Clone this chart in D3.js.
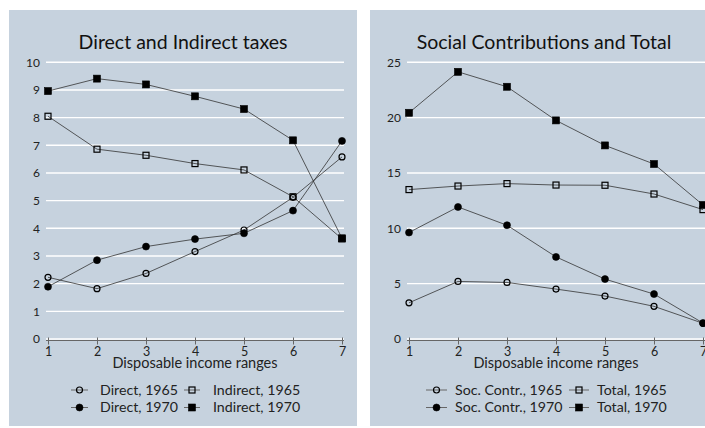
<!DOCTYPE html>
<html><head><meta charset="utf-8">
<script src="https://cdn.jsdelivr.net/npm/d3@7"></script>
<style>
html,body{margin:0;padding:0;background:#fff;overflow:hidden;}
svg{display:block;font-family:Lato,"Open Sans",sans-serif;}
</style></head>
<body>
<svg id="chart" width="705" height="428"></svg>
<script>
// ---- data ----
const categories = [1, 2, 3, 4, 5, 6, 7];
const leftTicks = [0, 1, 2, 3, 4, 5, 6, 7, 8, 9, 10];
const rightTicks = [0, 5, 10, 15, 20, 25];

const direct1965   = [2.23, 1.82, 2.37, 3.16, 3.94, 5.12, 6.58];
const direct1970   = [1.89, 2.85, 3.34, 3.61, 3.82, 4.64, 7.16];
const indirect1965 = [8.05, 6.86, 6.64, 6.34, 6.11, 5.14, 3.62];
const indirect1970 = [8.96, 9.41, 9.20, 8.77, 8.31, 7.18, 3.64];

const socContr1965 = [3.27, 5.20, 5.11, 4.51, 3.88, 2.95, 1.42];
const socContr1970 = [9.62, 11.93, 10.28, 7.42, 5.41, 4.06, 1.44];
const total1965    = [13.50, 13.82, 14.04, 13.91, 13.89, 13.10, 11.69];
const total1970    = [20.44, 24.14, 22.79, 19.75, 17.49, 15.81, 12.11];

const leftTitle = "Direct and Indirect taxes";
const rightTitle = "Social Contributions and Total";
const xAxisTitle = "Disposable income ranges";
const pageHeading = "Average taxes in the range";

const leftSeries = [
  {name: "Direct, 1965", values: direct1965, shape: "circle", filled: false},
  {name: "Indirect, 1965", values: indirect1965, shape: "square", filled: false},
  {name: "Direct, 1970", values: direct1970, shape: "circle", filled: true},
  {name: "Indirect, 1970", values: indirect1970, shape: "square", filled: true}
];
const rightSeries = [
  {name: "Soc. Contr., 1965", values: socContr1965, shape: "circle", filled: false},
  {name: "Total, 1965", values: total1965, shape: "square", filled: false},
  {name: "Soc. Contr., 1970", values: socContr1970, shape: "circle", filled: true},
  {name: "Total, 1970", values: total1970, shape: "square", filled: true}
];

// ---- drawing ----
const svg = d3.select("#chart");
const BG = "#c6d2de";

svg.append("text").attr("x", 26).attr("y", -4)
  .attr("font-size", 24).attr("fill", "#222").text(pageHeading);

function marker(g, shape, filled, cx, cy) {
  if (shape === "circle") {
    g.append("circle").attr("cx", cx).attr("cy", cy)
      .attr("r", filled ? 3.5 : 3.0)
      .attr("fill", filled ? "#000" : "none")
      .attr("stroke", "#000").attr("stroke-width", filled ? 0.6 : 1.2);
  } else {
    const s = filled ? 7 : 6;
    g.append("rect").attr("x", cx - s / 2).attr("y", cy - s / 2)
      .attr("width", s).attr("height", s)
      .attr("fill", filled ? "#000" : "none")
      .attr("stroke", "#000").attr("stroke-width", filled ? 0.6 : 1.2);
  }
}

function drawPanel(ox, title, yMax, ticks, series, legendCfg) {
  const g = svg.append("g").attr("transform", `translate(${ox},0)`);
  g.append("rect").attr("x", 9).attr("y", 10).attr("width", 348).attr("height", 416).attr("fill", BG);
  g.append("text").attr("x", 183).attr("y", 49).attr("text-anchor", "middle")
    .attr("font-size", 19.5).attr("fill", "#111").text(title);

  const x = d3.scalePoint().domain(categories).range([48, 342]);
  const y = d3.scaleLinear().domain([0, yMax]).range([339, 62.3]);

  // gridlines
  g.selectAll(".grid").data(ticks).enter().append("line")
    .attr("x1", 46).attr("x2", 344)
    .attr("y1", d => y(d)).attr("y2", d => y(d))
    .attr("stroke", "#fff").attr("stroke-width", 1.4);
  // y labels
  g.selectAll(".ylab").data(ticks).enter().append("text")
    .attr("x", 40).attr("y", d => y(d)).attr("dy", "0.35em")
    .attr("text-anchor", "end").attr("font-size", 12).attr("fill", "#222")
    .text(d => d);

  // x axis
  const xAxis = d3.axisBottom(x).tickSize(4).tickSizeOuter(0);
  const ax = g.append("g").attr("transform", `translate(0,${y(0) + 1.5})`).call(xAxis);
  ax.select(".domain").attr("stroke", "#666").attr("d", `M46,0H344`).attr("stroke-width", 1);
  ax.selectAll(".tick line").attr("stroke", "#666").attr("y1", -3);
  ax.selectAll(".tick text").attr("font-size", 12.5).attr("fill", "#222")
    .attr("font-family", "Lato, 'Open Sans', sans-serif").attr("y", 7);

  g.append("text").attr("x", 195).attr("y", 368).attr("text-anchor", "middle")
    .attr("font-size", 14.5).attr("fill", "#222").text(xAxisTitle);

  // lines and markers
  const line = d3.line().x((d, i) => x(categories[i])).y(d => y(d));
  series.forEach(s => {
    g.append("path").attr("d", line(s.values)).attr("fill", "none")
      .attr("stroke", "#333").attr("stroke-width", 0.8);
  });
  series.forEach(s => {
    s.values.forEach((v, i) => marker(g, s.shape, s.filled, x(categories[i]), y(v)));
  });

  // legend
  series.forEach((s, i) => {
    const col = i % 2, row = Math.floor(i / 2);
    const c = legendCfg.cols[col];
    const ly = 390 + row * 17.5;
    g.append("line").attr("x1", c.x0).attr("x2", c.x1).attr("y1", ly).attr("y2", ly)
      .attr("stroke", "#666").attr("stroke-width", 1);
    marker(g, s.shape, s.filled, (c.x0 + c.x1) / 2, ly);
    g.append("text").attr("x", c.tx).attr("y", ly).attr("dy", "0.35em")
      .attr("font-size", 14.2).attr("fill", "#222").text(s.name);
  });
}

drawPanel(0, leftTitle, 10, leftTicks, leftSeries,
  {cols: [{x0: 71, x1: 88, tx: 100}, {x0: 184, x1: 200, tx: 213}]});
drawPanel(361, rightTitle, 25, rightTicks, rightSeries,
  {cols: [{x0: 65, x1: 86, tx: 94}, {x0: 208, x1: 228, tx: 236}]});
</script>
</body></html>
